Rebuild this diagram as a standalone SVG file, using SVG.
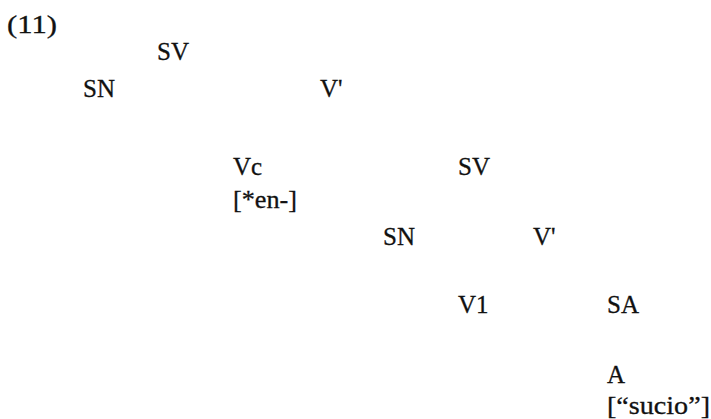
<svg xmlns="http://www.w3.org/2000/svg" width="711" height="419" viewBox="0 0 711 419">
<style>
text{font-family:"Liberation Serif","Times New Roman",serif;font-size:25px;fill:#111;stroke:#111;stroke-width:0.3}
</style>
<rect width="711" height="419" fill="#fff"/>
<text x="7" y="33" textLength="50" lengthAdjust="spacingAndGlyphs">(11)</text>
<g id="n-sv1"><text x="157" y="60">SV</text></g>
<g id="n-sn1"><text x="83" y="97">SN</text></g>
<g id="n-vbar1"><text x="320" y="97">V'</text></g>
<g id="n-vc"><text x="233" y="175">Vc</text><text x="233" y="208" textLength="64" lengthAdjust="spacingAndGlyphs">[*en-]</text></g>
<g id="n-sv2"><text x="458" y="175">SV</text></g>
<g id="n-sn2"><text x="383" y="245">SN</text></g>
<g id="n-vbar2"><text x="533" y="245">V'</text></g>
<g id="n-v1"><text x="458" y="313">V1</text></g>
<g id="n-sa"><text x="607" y="313">SA</text></g>
<g id="n-a"><text x="607" y="383">A</text><text x="607" y="414" textLength="103" lengthAdjust="spacingAndGlyphs">[“sucio”]</text></g>
<g id="connectors"></g>
</svg>
